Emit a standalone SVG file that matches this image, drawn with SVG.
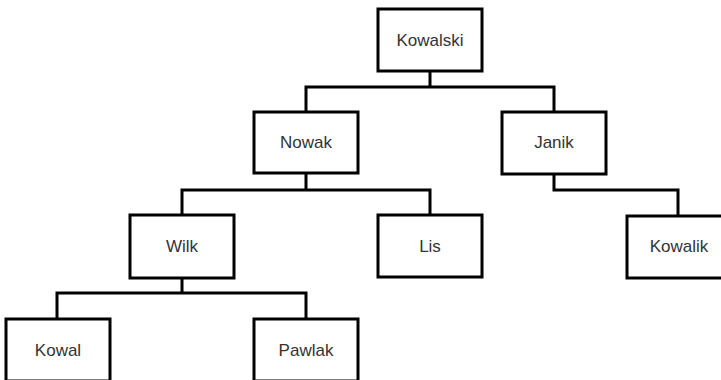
<svg xmlns="http://www.w3.org/2000/svg" width="721" height="380" viewBox="0 0 721 380">
<style>
.box{fill:#fff;stroke:#000;stroke-width:3}
.lbl{font-family:"Liberation Sans",Arial,sans-serif;font-size:17px;fill:#333;text-anchor:middle}
.con{fill:none;stroke:#000;stroke-width:3}
</style>
<rect width="721" height="380" fill="#fff"/>
<g id="connectors">
<path class="con" d="M430 71V87M306 112V87H554V112"/>
<path class="con" d="M306 173V190M182 215V190H430V215"/>
<path class="con" d="M554 174V190H678V216"/>
<path class="con" d="M182 278V293M57 319V293H306V319"/>
</g>
<g id="kowalski"><rect class="box" x="378" y="9" width="104" height="62"/><text class="lbl" x="430" y="46">Kowalski</text></g>
<g id="nowak"><rect class="box" x="254" y="112" width="104" height="61"/><text class="lbl" x="306" y="148">Nowak</text></g>
<g id="janik"><rect class="box" x="502" y="112" width="104" height="62"/><text class="lbl" x="554" y="148">Janik</text></g>
<g id="wilk"><rect class="box" x="130" y="215" width="104" height="63"/><text class="lbl" x="182" y="252">Wilk</text></g>
<g id="lis"><rect class="box" x="378" y="215" width="104" height="62"/><text class="lbl" x="430" y="252">Lis</text></g>
<g id="kowalik"><rect class="box" x="627" y="216" width="104" height="62"/><text class="lbl" x="679" y="252">Kowalik</text></g>
<g id="kowal"><rect class="box" x="6" y="319" width="104" height="62"/><text class="lbl" x="58" y="356">Kowal</text></g>
<g id="pawlak"><rect class="box" x="254" y="319" width="104" height="62"/><text class="lbl" x="306" y="356">Pawlak</text></g>
</svg>
